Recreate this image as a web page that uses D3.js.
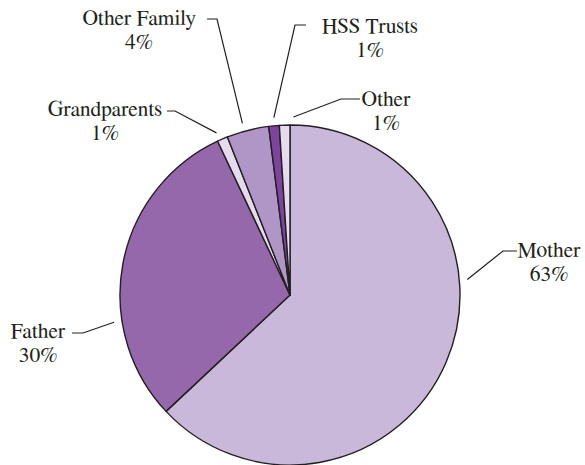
<!DOCTYPE html>
<html>
<head>
<meta charset="utf-8">
<script src="https://cdn.jsdelivr.net/npm/d3@7"></script>
<style>
  html, body { margin: 0; padding: 0; background: #ffffff; }
  svg { display: block; }
</style>
</head>
<body>
<svg id="chart" width="585" height="465"></svg>
<script>
// Share of carers by relationship (percent), clockwise from 12 o'clock
const categories = ["Mother", "Father", "Grandparents", "Other Family", "HSS Trusts", "Other"];
const shares = [63, 30, 1, 4, 1, 1];
const valueLabels = ["63%", "30%", "1%", "4%", "1%", "1%"];
const sliceColors = ["#c9b8da", "#9468ab", "#e4dbed", "#b096c6", "#7e429f", "#e4dbed"];

// Callout placement: leader start angle (deg, clockwise from top),
// elbow point, end of the short horizontal tick, and label anchor (centre, first baseline)
const calloutLayout = [
  { angle: 85,    elbow: [503, 251], tick: [517, 251], label: [549, 257] },
  { angle: 261.2, elbow: [83, 333],  tick: [72, 333],  label: [38, 338] },
  { angle: 335.6, elbow: [175, 111], tick: [167, 111], label: [105, 116] },
  { angle: 344.5, elbow: [217, 19],  tick: [207, 19],  label: [139, 25] },
  { angle: 354.8, elbow: [295, 25],  tick: [306, 25],  label: [370, 33] },
  { angle: 1.1,   elbow: [341, 99],  tick: [360, 99],  label: [386, 106] }
];

const cx = 290, cy = 295, radius = 170, leaderRadius = 178, lineGap = 24;
const labelFont = "FreeSerif, 'Liberation Serif', serif";

const svg = d3.select("#chart");
const g = svg.append("g").attr("transform", `translate(${cx},${cy})`);

const pie = d3.pie().sort(null).value(d => d).startAngle(0).endAngle(2 * Math.PI);
const arc = d3.arc().innerRadius(0).outerRadius(radius);

g.selectAll("path.slice")
  .data(pie(shares))
  .join("path")
  .attr("class", "slice")
  .attr("d", arc)
  .attr("fill", (d, i) => sliceColors[i])
  .attr("stroke", "#231f20")
  .attr("stroke-width", 1.4)
  .attr("stroke-linejoin", "round");

// Leader lines
const rad = deg => deg * Math.PI / 180;
svg.selectAll("polyline.leader")
  .data(calloutLayout)
  .join("polyline")
  .attr("class", "leader")
  .attr("points", d => {
    const sx = cx + leaderRadius * Math.sin(rad(d.angle));
    const sy = cy - leaderRadius * Math.cos(rad(d.angle));
    return [[sx, sy], d.elbow, d.tick].map(p => p.join(",")).join(" ");
  })
  .attr("fill", "none")
  .attr("stroke", "#231f20")
  .attr("stroke-width", 1.2);

// Two-line labels: category name and percentage
const labels = svg.selectAll("text.callout")
  .data(calloutLayout)
  .join("text")
  .attr("class", "callout")
  .style("font-family", labelFont)
  .style("font-size", "21.5px")
  .style("fill", "#231f20")
  .attr("text-anchor", "middle")
  .attr("x", d => d.label[0])
  .attr("y", d => d.label[1]);

labels.append("tspan")
  .attr("x", d => d.label[0])
  .text((d, i) => categories[i]);

labels.append("tspan")
  .attr("x", d => d.label[0])
  .attr("dy", lineGap)
  .text((d, i) => valueLabels[i]);
</script>
</body>
</html>
